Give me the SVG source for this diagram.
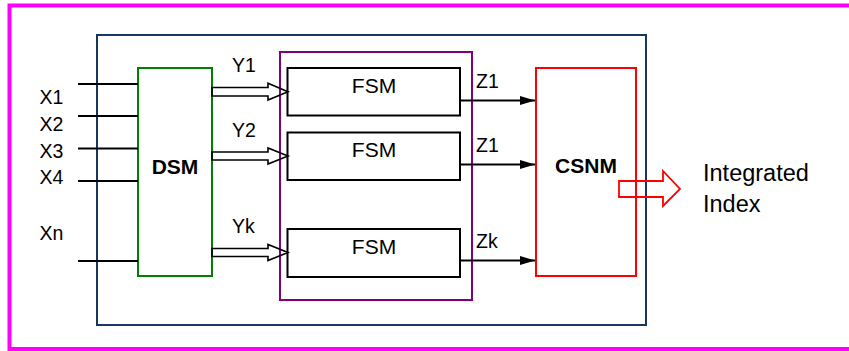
<svg xmlns="http://www.w3.org/2000/svg" width="849" height="351" viewBox="0 0 849 351">
<defs>
<style>
text{font-family:"Liberation Sans",Arial,sans-serif;fill:#000}
.lbl{font-size:19.5px}
.fsm{font-size:21px;text-anchor:middle}
.bold{font-size:21px;font-weight:bold;text-anchor:middle}
.out{font-size:23.5px}
.box{fill:#fff;stroke-width:2}
.ln{stroke:#000;stroke-width:2;fill:none}
.hollow{fill:none;stroke:#000;stroke-width:1.6;stroke-linejoin:miter}
</style>
<marker id="ah" markerWidth="16" markerHeight="10" refX="15" refY="5" orient="auto" markerUnits="userSpaceOnUse">
<path d="M0,0.5 L15,5 L0,9.5 Z" fill="#000"/>
</marker>
</defs>
<rect width="849" height="351" fill="#fff"/>
<path d="M849,5.5 H9.5 V349 H849" fill="none" stroke="#FF00FF" stroke-width="4"/>
<g id="system">
<rect x="97" y="35" width="549" height="290" fill="none" stroke="#17375E" stroke-width="2"/>
</g>
<g id="fsm-group">
<rect x="280" y="52" width="192" height="248" fill="none" stroke="#800080" stroke-width="2"/>
</g>
<g id="inputs">
<text class="lbl" x="39.5" y="104">X1</text>
<text class="lbl" x="39.5" y="130.5">X2</text>
<text class="lbl" x="39.5" y="157.5">X3</text>
<text class="lbl" x="39.5" y="184">X4</text>
<text class="lbl" x="39.5" y="240">Xn</text>
</g>
<g id="dsm">
<rect class="box" x="138" y="68" width="74" height="208" stroke="#008000"/>
<text class="bold" x="175" y="174">DSM</text>
</g>
<g id="fsm1">
<rect class="box" x="287.5" y="68" width="172.5" height="47.5" stroke="#000"/>
<text class="fsm" x="374" y="93">FSM</text>
</g>
<g id="fsm2">
<rect class="box" x="287.5" y="132.5" width="172.5" height="47.5" stroke="#000"/>
<text class="fsm" x="374" y="157">FSM</text>
</g>
<g id="fsmk">
<rect class="box" x="287.5" y="229" width="172.5" height="48" stroke="#000"/>
<text class="fsm" x="374" y="254">FSM</text>
</g>
<g id="csnm">
<rect class="box" x="536" y="68" width="100" height="208" stroke="#FF0000"/>
<text class="bold" x="586" y="173">CSNM</text>
</g>
<g id="connectors">
<line class="ln" x1="78" y1="84" x2="138" y2="84"/>
<line class="ln" x1="78" y1="116" x2="138" y2="116"/>
<line class="ln" x1="78" y1="148.5" x2="138" y2="148.5"/>
<line class="ln" x1="78" y1="181" x2="138" y2="181"/>
<line class="ln" x1="78" y1="261" x2="138" y2="261"/>
<polygon class="hollow" points="212,87.5 268,87.5 268,83.3 288,91.7 268,100 268,96 212,96"/>
<polygon class="hollow" points="212,152 268,152 268,148 288,156 268,164 268,160 212,160"/>
<polygon class="hollow" points="212,248.5 268,248.5 268,244.5 288,252.5 268,260.5 268,256.5 212,256.5"/>
<line class="ln" x1="460" y1="100.5" x2="535" y2="100.5" marker-end="url(#ah)"/>
<line class="ln" x1="460" y1="164.5" x2="535" y2="164.5" marker-end="url(#ah)"/>
<line class="ln" x1="460" y1="260.5" x2="535" y2="260.5" marker-end="url(#ah)"/>
<text class="lbl" x="232" y="72">Y1</text>
<text class="lbl" x="232" y="137">Y2</text>
<text class="lbl" x="232" y="233">Yk</text>
<text class="lbl" x="476" y="87.5">Z1</text>
<text class="lbl" x="476" y="152">Z1</text>
<text class="lbl" x="476" y="248">Zk</text>
</g>
<g id="output">
<polygon points="619,181 663,181 663,171 680,189 663,206 663,197 619,197" fill="none" stroke="#FF0000" stroke-width="1.8"/>
<text class="out" x="703" y="181">Integrated</text>
<text class="out" x="703" y="212">Index</text>
</g>
</svg>
